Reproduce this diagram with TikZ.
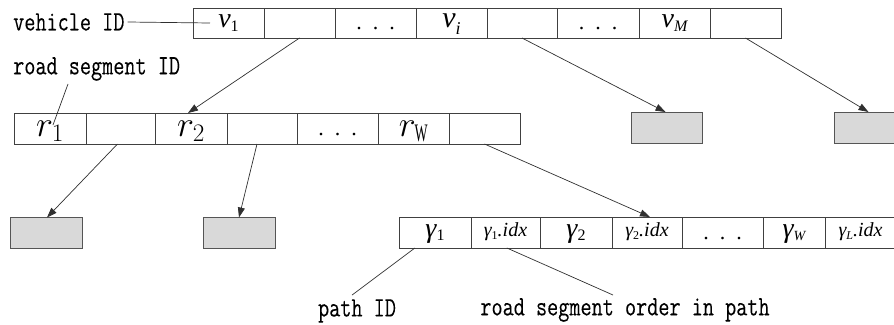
\RequirePackage{fix-cm}
\documentclass[tikz,border=0pt]{standalone}
\usepackage{fontspec}
\setmainfont{Liberation Serif}
\newfontfamily\labelfont[FakeBold=0.15]{Latin Modern Mono}
\usetikzlibrary{arrows.meta,calc}
\definecolor{cellc}{HTML}{404040}
\definecolor{boxc}{HTML}{555555}
\definecolor{grayf}{HTML}{D9D9D9}
\definecolor{linec}{HTML}{303030}
\newcommand\incell[2]{\raisebox{-#1}[0pt][0pt]{#2}}
\newcommand\lowsub[3]{\raisebox{-#1}{\fontsize{#2}{#2}\selectfont #3}}
\newcommand\tallt[1]{\scalebox{1}[1.3]{#1}}
\begin{document}
\begin{tikzpicture}[x=1pt,y=-1pt,
  cell/.style={draw=cellc, line width=0.8pt, inner sep=0pt, outer sep=0pt},
  toprow/.style={cell, minimum height=30pt, font=\fontsize{28}{28}\selectfont},
  midrow/.style={cell, minimum height=31pt, font=\fontsize{36}{36}\selectfont},
  pathrow/.style={cell, minimum height=31pt, font=\fontsize{28}{28}\selectfont},
  gbox/.style={draw=boxc, fill=grayf, line width=1pt, minimum width=71pt, minimum height=31pt, inner sep=0pt, outer sep=0pt},
  arr/.style={draw=linec, line width=0.7pt, -{Triangle[length=10pt,width=7pt]}},
  lead/.style={draw=linec, line width=0.7pt},
  lbl/.style={font=\labelfont\fontsize{21.6}{24}\selectfont, inner sep=0pt}]

\useasboundingbox (0,0) rectangle (894,324);

% top row
\node[toprow, minimum width=71pt] (a1) at (228.5,23) {\incell{5pt}{\itshape v\lowsub{4pt}{16}{\upshape 1}}};
\node[toprow, minimum width=71pt] (a2) at (299.5,23) {};
\node[toprow, minimum width=81pt] (a3) at (375.5,23) {\incell{6pt}{\fontsize{22}{22}\selectfont .\ \ .\ \ .}};
\node[toprow, minimum width=71pt] (a4) at (451.5,23) {\incell{5pt}{\fontsize{30}{30}\selectfont\itshape v\lowsub{6pt}{18}{i}}};
\node[toprow, minimum width=70pt] (a5) at (522,23) {};
\node[toprow, minimum width=82pt] (a6) at (598,23) {\incell{6pt}{\fontsize{22}{22}\selectfont .\ \ .\ \ .}};
\node[toprow, minimum width=71pt] (a7) at (674.5,23) {\incell{5pt}{\itshape v\lowsub{4pt}{16}{M}}};
\node[toprow, minimum width=71pt] (a8) at (745.5,23) {};

% middle row
\node[midrow, minimum width=72pt] (b1) at (50,128.5) {\incell{8pt}{$r_1$}};
\node[midrow, minimum width=69pt] (b2) at (120.5,128.5) {};
\node[midrow, minimum width=72pt] (b3) at (191,128.5) {\incell{8pt}{$r_2$}};
\node[midrow, minimum width=70pt] (b4) at (262,128.5) {};
\node[midrow, minimum width=81pt] (b5) at (337.5,128.5) {\incell{7pt}{\fontsize{22}{22}\selectfont .\ \ .\ \ .}};
\node[midrow, minimum width=71pt] (b6) at (413.5,128.5) {\incell{8pt}{$r_{\scalebox{0.55}[1]{$\scriptstyle\mathrm{W}$}}$}};
\node[midrow, minimum width=71pt] (b7) at (484.5,128.5) {};

% gray boxes
\node[gbox] (g1) at (666.5,127.5) {};
\node[gbox] (g2) at (869.5,127.5) {};
\node[gbox, minimum width=72pt] (g3) at (46,233) {};
\node[gbox, minimum width=72pt] (g4) at (239,233) {};

% path row
\node[pathrow, minimum width=72pt] (c1) at (435,232.5) {\incell{5pt}{\itshape γ\lowsub{3pt}{16}{\upshape 1}}};
\node[pathrow, minimum width=69pt] (c2) at (505.5,232.5) {\incell{4pt}{\fontsize{20}{20}\selectfont\itshape γ\lowsub{3pt}{12}{\upshape 1}.idx}};
\node[pathrow, minimum width=72pt] (c3) at (576,232.5) {\incell{5pt}{\itshape γ\lowsub{3pt}{16}{\upshape 2}}};
\node[pathrow, minimum width=70pt] (c4) at (647,232.5) {\incell{4pt}{\fontsize{20}{20}\selectfont\itshape γ\lowsub{3pt}{12}{\upshape 2}.idx}};
\node[pathrow, minimum width=81pt] (c5) at (722.5,232.5) {\incell{7pt}{\fontsize{22}{22}\selectfont .\ \ .\ \ .}};
\node[pathrow, minimum width=62pt] (c6) at (794,232.5) {\incell{5pt}{\itshape γ\lowsub{3pt}{14}{W}}};
\node[pathrow, minimum width=71pt] (c7) at (860.5,232.5) {\incell{4pt}{\fontsize{20}{20}\selectfont\itshape γ\lowsub{3pt}{12}{L}.idx}};

% labels
\node[lbl, anchor=west] (vid) at (13,22) {\tallt{vehicle ID}};
\node[lbl, anchor=west] (rsid) at (13,69) {\tallt{road segment ID}};
\node[lbl] (pid) at (357,311) {\tallt{path ID}};
\node[lbl] (rso) at (625,310) {\tallt{road segment order in path}};

\coordinate (vidend) at ($(a1.west)+(17,0)$);
\coordinate (rsend) at ($(b1.south west)+(39,-19)$);

% leader lines
\draw[lead] ($(vid.east)+(3,0)$) -- (vidend);
\draw[lead] ($(rsid.south west)+(55,3)$) -- (rsend);
\draw[lead] ($(pid.north)+(-5,-4)$) -- ($(c1.south west)!0.22!(c1.south east)$);
\draw[lead] ($(rso.north)+(-12,-3)$) -- ($(c2.south west)!0.52!(c2.south east)$);

% arrows
\draw[arr] (a2.south) -- ($(b3.north)+(-3,0)$);
\draw[arr] (a5.south) -- ($(g1.north)+(-1,0)$);
\draw[arr] (a8.south) -- ($(g2.north)+(-1,0)$);
\draw[arr] ($(b2.south)+(-3,0)$) -- ($(g3.north)+(1,0)$);
\draw[arr] ($(b4.south)+(-5,0)$) -- (g4.north);
\draw[arr] (b7.south) -- ($(c4.north)+(3,0)$);
\end{tikzpicture}
\end{document}
